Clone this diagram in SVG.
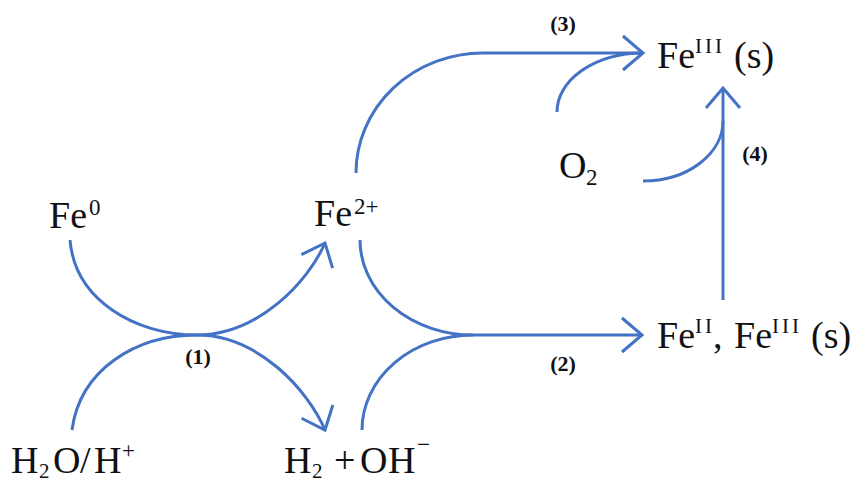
<svg xmlns="http://www.w3.org/2000/svg" width="857" height="483" viewBox="0 0 857 483">
<style>
.t{font-family:"Liberation Serif","Times New Roman",serif;font-size:38px;fill:#111}
.s{font-size:23px}
.b{font-size:21px}
.r{font-size:21px}
.lab{font-family:"Liberation Serif","Times New Roman",serif;font-size:22px;font-weight:bold;fill:#111;text-anchor:middle}
.c{fill:none;stroke:#4472C4;stroke-width:3}
.a{marker-end:url(#ah)}
</style>
<defs>
<marker id="ah" markerUnits="userSpaceOnUse" markerWidth="40" markerHeight="40" orient="auto" refX="0" refY="0" style="overflow:visible">
<path d="M-20,-17 L0,0 L-20,17" fill="none" stroke="#4472C4" stroke-width="3"/>
</marker>
</defs>
<rect width="857" height="483" fill="#fff"/>
<g id="connectors">
<path class="c a" d="M70,240 C75,300 135,335 197,335 C258,335 308,282 325,243"/>
<path class="c a" d="M72,430 C80,370 135,335 197,335 C258,335 308,390 325,430"/>
<path class="c a" d="M360,240 A113,95 0 0 0 473,335 H642"/>
<path class="c" d="M362,430 A111,95 0 0 1 473,335"/>
<path class="c a" d="M356,173 A127,120 0 0 1 483,53 H643"/>
<path class="c" d="M557,112 A86,59 0 0 1 643,53"/>
<path class="c a" d="M723,300 V88"/>
<path class="c" d="M643,181 A80,60 0 0 0 723,121"/>
</g>
<g id="labels">
<text class="lab" x="198" y="364">(1)</text>
<text class="lab" x="563" y="371">(2)</text>
<text class="lab" x="563" y="31">(3)</text>
<text class="lab" x="755" y="161">(4)</text>
</g>
<g id="node-fe0"><text class="t" x="49" y="228">Fe<tspan class="s" x="89" y="215">0</tspan></text></g>
<g id="node-fe2"><text class="t" x="314" y="226">Fe<tspan class="s" x="354" y="214">2+</tspan></text></g>
<g id="node-fe3s"><text class="t" x="657" y="68">Fe<tspan class="r" x="695" y="53" textLength="27" lengthAdjust="spacing">III</tspan><tspan x="734" y="68">(s)</tspan></text></g>
<g id="node-fe23s"><text class="t" x="657" y="348">Fe<tspan class="r" x="695" y="333" textLength="17" lengthAdjust="spacing">II</tspan><tspan x="713" y="348">,</tspan><tspan x="734" y="348">Fe</tspan><tspan class="r" x="772" y="333" textLength="27" lengthAdjust="spacing">III</tspan><tspan x="811" y="348">(s)</tspan></text></g>
<g id="node-o2"><text class="t" x="559" y="178">O<tspan class="s" x="586" y="185">2</tspan></text></g>
<g id="node-h2o"><text class="t" x="11" y="473">H<tspan class="b" x="39" y="478">2</tspan><tspan x="53" y="473">O</tspan><tspan x="80" y="473">/</tspan><tspan x="94" y="473">H</tspan><tspan class="s" x="122" y="458">+</tspan></text></g>
<g id="node-h2oh"><text class="t" x="284" y="473">H<tspan class="b" x="312" y="478">2</tspan><tspan x="334" y="473">+</tspan><tspan x="360" y="473">O</tspan><tspan x="388" y="473">H</tspan><tspan class="s" x="417" y="452">−</tspan></text></g>
</svg>
